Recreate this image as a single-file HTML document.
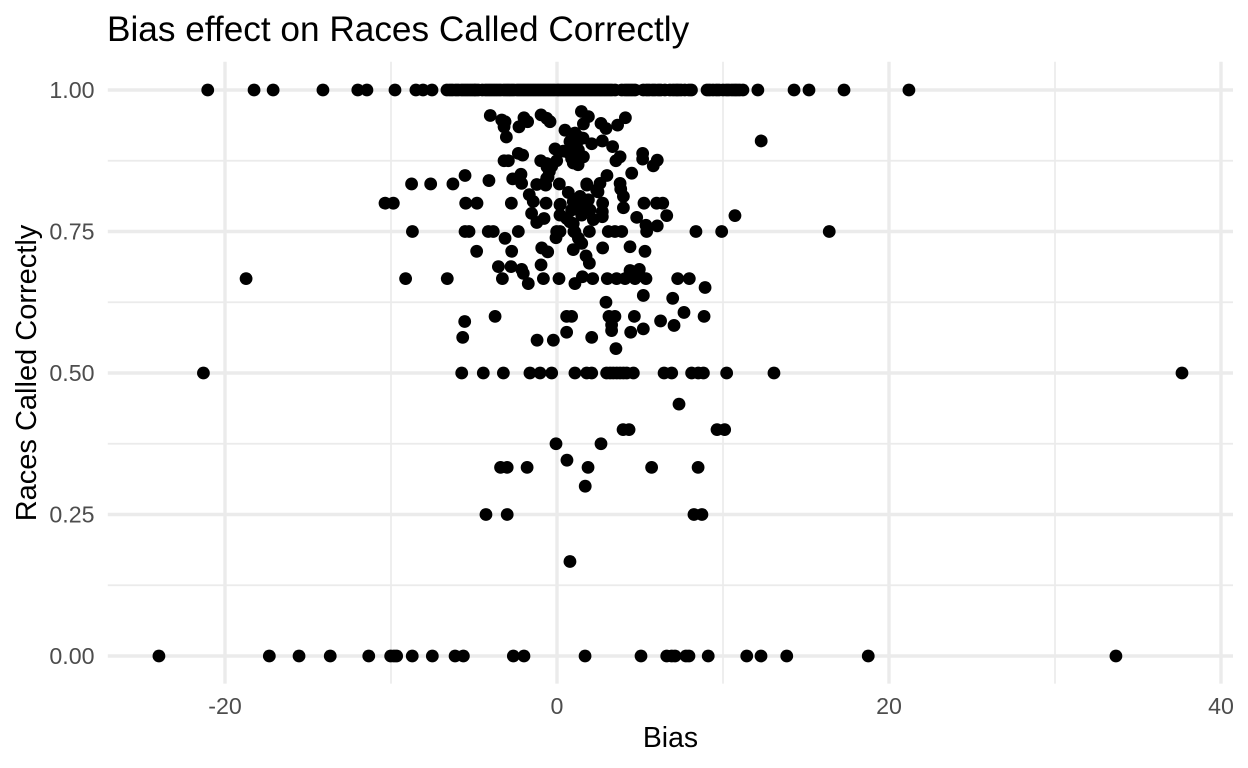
<!DOCTYPE html>
<html lang="en">
<head>
<meta charset="utf-8">
<title>Bias effect on Races Called Correctly</title>
<style>
html,body{margin:0;padding:0;background:#fff;width:1248px;height:768px;overflow:hidden}
svg{display:block;font-family:"Liberation Sans",Arial,sans-serif}
</style>
</head>
<body>
<svg id="chart" xmlns="http://www.w3.org/2000/svg" width="1248" height="768" viewBox="0 0 1248 768">
  <rect x="0" y="0" width="1248" height="768" fill="#ffffff"/>
  <g id="grid"></g>
  <g id="points"></g>
  <g id="xticks"></g>
  <g id="yticks"></g>
  <text x="107" y="41" font-size="35.2" fill="#000">Bias effect on Races Called Correctly</text>
  <text x="670.5" y="747" font-size="28.4" text-anchor="middle" fill="#000">Bias</text>
  <text transform="translate(36,373) rotate(-90)" font-size="29" text-anchor="middle" fill="#000">Races Called Correctly</text>
</svg>
<script>
const xMajorTicks = [-20, 0, 20, 40];
const xTickLabels = ["-20", "0", "20", "40"];
const xMinorTicks = [-10, 10, 30];
const yMajorTicks = [0, 0.25, 0.5, 0.75, 1];
const yTickLabels = ["0.00", "0.25", "0.50", "0.75", "1.00"];
const yMinorTicks = [0.125, 0.375, 0.625, 0.875];

const biasAtOne = [-21.04,-18.25,-17.1,-14.1,-12.0,-11.45,-9.76,-8.5,-8.07,-7.53,-6.63,-6.45,-6.3,-6.1,-5.95,-5.75,-5.6,-5.45,-5.3,-5.15,-5.0,-4.9,-4.75,-4.5,-4.3,-4.15,-4.0,-3.85,-3.7,-3.55,-3.4,-3.2,-3.05,-2.9,-2.75,-2.6,-2.4,-2.25,-2.1,-1.95,-1.8,-1.65,-1.5,-1.35,-1.2,-1.05,-0.9,-0.75,-0.6,-0.45,-0.3,-0.15,0.02,0.15,0.3,0.45,0.6,0.75,0.9,1.05,1.2,1.35,1.5,1.65,1.8,1.95,2.1,2.25,2.4,2.55,2.7,2.85,3.0,3.15,3.3,3.5,3.9,4.1,4.25,4.4,4.55,4.7,5.2,5.4,5.55,5.75,5.9,6.1,6.25,6.5,6.8,7.0,7.17,7.3,7.47,7.7,7.95,8.1,9.04,9.2,9.4,9.6,9.76,10.0,10.2,10.35,10.54,10.7,10.84,11.0,11.2,12.1,14.28,15.18,17.29,21.2];
const biasAtZero = [-23.98,-17.33,-15.54,-13.66,-11.34,-10.02,-9.82,-9.66,-8.72,-7.51,-6.14,-5.64,-2.63,-1.99,1.69,5.06,6.61,6.91,7.11,7.77,7.95,9.11,11.43,12.29,13.84,18.75,33.67];
const biasAtHalf = [-21.3,-5.74,-4.44,-3.23,-1.63,-1.02,-0.32,1.08,1.79,2.09,2.99,3.2,3.39,3.6,3.8,4.0,4.2,4.6,6.45,6.91,8.11,8.51,8.82,10.22,13.07,37.65];
const biasAtThreeQuarters = [-8.71,-5.54,-5.3,-4.14,-3.84,-2.33,-0.02,0.18,1.02,1.95,3.09,3.49,3.9,5.4,8.37,9.92,16.4];
const biasAtTwoThirds = [-18.73,-9.12,-6.61,-3.29,-0.82,0.12,2.15,3.03,3.59,4.1,4.7,5.36,7.27,7.97];
const biasAtOneThird = [-3.4,-3.0,-1.8,1.87,5.7,8.5];
const biasAtOneQuarter = [-4.28,-3.0,8.25,8.73];

const otherBias = [
-4.02,-3.33,-3.13,-3.19,-3.05,-1.99,-1.77,-2.29,-0.96,-0.62,-0.42,1.47,1.89,1.59,2.65,2.95,3.65,4.12,0.48,1.18,
1.49,0.78,1.18,2.09,2.73,3.35,-0.12,0.38,0.98,1.29,0.88,1.59,1.22,-2.33,-2.07,-3.19,-2.93,-0.98,-0.62,-0.02,
-0.32,-0.46,-0.62,-0.68,-1.22,5.16,5.16,6.04,5.8,3.8,3.55,3.01,4.5,-5.54,-4.1,-8.76,-7.61,-6.27,-2.17,-2.67,
-2.13,0.14,1.79,2.59,2.39,3.8,3.84,4.0,0.68,-1.67,-1.43,-10.36,-9.86,-5.5,-4.82,-2.75,-0.66,0.2,1.39,1.02,
1.79,1.49,1.08,1.89,2.75,4.0,5.24,6.0,6.37,6.61,10.72,-1.53,-0.78,-1.22,0.18,0.58,0.98,1.49,2.19,2.73,
2.73,4.8,5.36,6.04,-3.13,-0.06,1.29,1.49,-4.84,-2.73,-0.92,-0.56,0.98,2.75,4.4,5.3,-3.53,-2.77,-2.13,-2.03,
-0.96,1.75,1.95,1.53,4.4,4.96,-1.73,1.08,8.92,5.2,6.97,2.95,7.65,8.86,6.24,7.05,-3.73,-5.56,-5.68,0.58,
0.88,3.13,3.49,4.66,3.29,3.29,4.44,5.2,0.58,2.09,-1.2,-0.22,3.55,7.35,9.64,10.1,3.98,4.34,-0.06,2.65,
0.6,1.7,0.78,12.3,
1.39,0.98,1.89,0.88,1.99,1.08,1.57,0.96,0.66,1.2,1.5,-0.6,-0.54,-0.72,0.98,1.27,1.8,2.47,0.18,0.78,1.08
];
const otherRaces = [
.955,.947,.944,.935,.917,.951,.944,.935,.956,.95,.944,.962,.953,.94,.941,.932,.938,.951,.929,.92,
.915,.909,.906,.905,.91,.9,.896,.892,.894,.894,.879,.882,.869,.888,.885,.875,.875,.875,.87,.875,
.865,.856,.844,.832,.833,.888,.878,.876,.866,.882,.875,.849,.853,.849,.84,.834,.834,.834,.851,.843,
.835,.834,.834,.835,.823,.835,.825,.812,.819,.815,.803,.8,.8,.8,.8,.8,.8,.798,.812,.8,
.803,.794,.791,.788,.8,.792,.8,.8,.8,.778,.778,.782,.773,.766,.779,.773,.764,.779,.771,.776,
.785,.775,.761,.76,.738,.739,.738,.729,.715,.715,.721,.714,.718,.721,.723,.715,.688,.688,.683,.676,
.691,.707,.694,.67,.681,.683,.658,.658,.651,.637,.632,.625,.607,.6,.592,.584,.6,.591,.563,.6,
.6,.6,.6,.6,.585,.575,.572,.578,.572,.563,.558,.558,.543,.445,.4,.4,.4,.4,.375,.375,
.346,.3,.167,.91,
.809,.803,.806,.788,.788,.924,.915,.908,.89,.897,.882,.864,.846,.836,.871,.868,.832,.82,.797,.767,.749
];

const SVG_NS = "http://www.w3.org/2000/svg";
const scaleX = v => 557 + v * 16.6;
const scaleY = v => 656 - v * 566;
const panel = {left: 107.8, right: 1233, top: 61.7, bottom: 683.6};
const grid = document.getElementById("grid");
const pointsLayer = document.getElementById("points");
const xLayer = document.getElementById("xticks");
const yLayer = document.getElementById("yticks");

function makeLine(x1, y1, x2, y2, width) {
  const l = document.createElementNS(SVG_NS, "line");
  l.setAttribute("x1", x1);
  l.setAttribute("y1", y1);
  l.setAttribute("x2", x2);
  l.setAttribute("y2", y2);
  l.setAttribute("stroke", "#ebebeb");
  l.setAttribute("stroke-width", width);
  grid.appendChild(l);
  return l;
}
yMinorTicks.forEach(v => {
  const l = makeLine(panel.left, scaleY(v), panel.right, scaleY(v), 1.7);
  
  
});
xMinorTicks.forEach(v => {
  const l = makeLine(scaleX(v), panel.top, scaleX(v), panel.bottom, 1.7);
  
  
});
yMajorTicks.forEach(v => {
  const l = makeLine(panel.left, scaleY(v), panel.right, scaleY(v), 3.4);
  
  
});
xMajorTicks.forEach(v => {
  const l = makeLine(scaleX(v), panel.top, scaleX(v), panel.bottom, 3.4);
  
  
});

xMajorTicks.forEach((v, i) => {
  const t = document.createElementNS(SVG_NS, "text");
  
  
  t.setAttribute("x", scaleX(v));
  t.setAttribute("y", 714);
  t.setAttribute("font-size", "23.2");
  t.setAttribute("fill", "#4d4d4d");
  t.setAttribute("text-anchor", "middle");
  t.textContent = xTickLabels[i];
  xLayer.appendChild(t);
});
yMajorTicks.forEach((v, i) => {
  const t = document.createElementNS(SVG_NS, "text");
  
  
  t.setAttribute("x", 94.5);
  t.setAttribute("y", scaleY(v) + 8);
  t.setAttribute("font-size", "23.2");
  t.setAttribute("fill", "#4d4d4d");
  t.setAttribute("text-anchor", "end");
  t.textContent = yTickLabels[i];
  yLayer.appendChild(t);
});

function drawPoint(bias, races) {
  const c = document.createElementNS(SVG_NS, "circle");
  
  
  c.setAttribute("cx", scaleX(bias));
  c.setAttribute("cy", scaleY(races));
  c.setAttribute("r", 6.4);
  c.setAttribute("fill", "#000");
  pointsLayer.appendChild(c);
}
biasAtOne.forEach(b => drawPoint(b, 1));
biasAtZero.forEach(b => drawPoint(b, 0));
biasAtHalf.forEach(b => drawPoint(b, 0.5));
biasAtThreeQuarters.forEach(b => drawPoint(b, 0.75));
biasAtTwoThirds.forEach(b => drawPoint(b, 0.6667));
biasAtOneThird.forEach(b => drawPoint(b, 0.3333));
biasAtOneQuarter.forEach(b => drawPoint(b, 0.25));
otherBias.forEach((b, i) => drawPoint(b, otherRaces[i]));
</script>
</body>
</html>
